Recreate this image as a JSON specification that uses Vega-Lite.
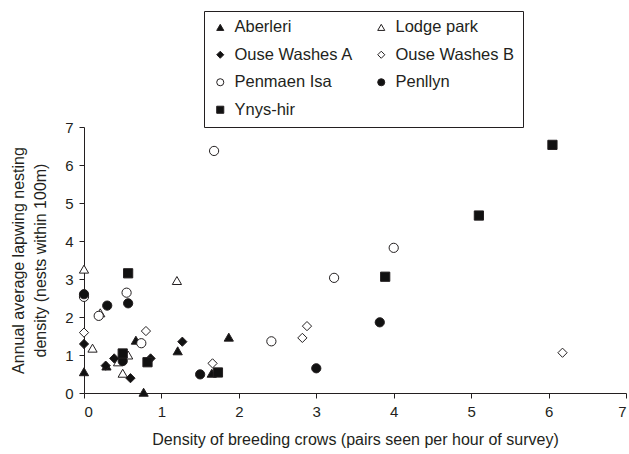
{
  "$schema": "https://vega.github.io/schema/vega-lite/v6.json",
  "width": 542,
  "height": 266,
  "autosize": {"type": "none"},
  "padding": {"left": 84, "top": 127, "right": 3, "bottom": 61},
  "background": "white",
  "config": {
    "font": "Liberation Sans",
    "view": {"stroke": null},
    "axis": {
      "grid": false,
      "domainColor": "#231f20",
      "tickColor": "#231f20",
      "labelColor": "#231f20",
      "titleColor": "#231f20",
      "labelFont": "Liberation Sans",
      "titleFont": "Liberation Sans",
      "labelFontSize": 15,
      "titleFontSize": 16,
      "titleFontWeight": "normal",
      "tickSize": 5
    }
  },
  "data": {
    "values": [
      {"site": "Aberleri", "crows": 0, "lapwing": 0.56},
      {"site": "Aberleri", "crows": 0.29, "lapwing": 0.71},
      {"site": "Aberleri", "crows": 0.67, "lapwing": 1.39},
      {"site": "Aberleri", "crows": 0.77, "lapwing": 0.02},
      {"site": "Aberleri", "crows": 1.21, "lapwing": 1.11},
      {"site": "Aberleri", "crows": 1.65, "lapwing": 0.52},
      {"site": "Aberleri", "crows": 1.87, "lapwing": 1.47},
      {"site": "Lodge park", "crows": 0, "lapwing": 3.26},
      {"site": "Lodge park", "crows": 0.11, "lapwing": 1.18},
      {"site": "Lodge park", "crows": 0.21, "lapwing": 2.11},
      {"site": "Lodge park", "crows": 0.44, "lapwing": 0.82},
      {"site": "Lodge park", "crows": 0.5, "lapwing": 0.52},
      {"site": "Lodge park", "crows": 0.57, "lapwing": 1.0},
      {"site": "Lodge park", "crows": 1.2, "lapwing": 2.96},
      {"site": "Ouse Washes A", "crows": 0, "lapwing": 1.29},
      {"site": "Ouse Washes A", "crows": 0.28, "lapwing": 0.72},
      {"site": "Ouse Washes A", "crows": 0.39, "lapwing": 0.91},
      {"site": "Ouse Washes A", "crows": 0.6, "lapwing": 0.39},
      {"site": "Ouse Washes A", "crows": 0.86, "lapwing": 0.91},
      {"site": "Ouse Washes A", "crows": 1.27, "lapwing": 1.35},
      {"site": "Ouse Washes B", "crows": 0, "lapwing": 1.59},
      {"site": "Ouse Washes B", "crows": 0.8, "lapwing": 1.63},
      {"site": "Ouse Washes B", "crows": 1.66, "lapwing": 0.78},
      {"site": "Ouse Washes B", "crows": 2.82, "lapwing": 1.45},
      {"site": "Ouse Washes B", "crows": 2.88, "lapwing": 1.76},
      {"site": "Ouse Washes B", "crows": 6.18, "lapwing": 1.06},
      {"site": "Penmaen Isa", "crows": 0, "lapwing": 2.53},
      {"site": "Penmaen Isa", "crows": 0.19, "lapwing": 2.03},
      {"site": "Penmaen Isa", "crows": 0.55, "lapwing": 2.64},
      {"site": "Penmaen Isa", "crows": 0.74, "lapwing": 1.31},
      {"site": "Penmaen Isa", "crows": 1.68, "lapwing": 6.37},
      {"site": "Penmaen Isa", "crows": 2.42, "lapwing": 1.36},
      {"site": "Penmaen Isa", "crows": 3.23, "lapwing": 3.03},
      {"site": "Penmaen Isa", "crows": 4.0, "lapwing": 3.82},
      {"site": "Penllyn", "crows": 0, "lapwing": 2.6},
      {"site": "Penllyn", "crows": 0.3, "lapwing": 2.3},
      {"site": "Penllyn", "crows": 0.57, "lapwing": 2.36},
      {"site": "Penllyn", "crows": 0.5, "lapwing": 0.84},
      {"site": "Penllyn", "crows": 1.5, "lapwing": 0.49},
      {"site": "Penllyn", "crows": 3.0, "lapwing": 0.65},
      {"site": "Penllyn", "crows": 3.82, "lapwing": 1.86},
      {"site": "Ynys-hir", "crows": 0.5, "lapwing": 1.04},
      {"site": "Ynys-hir", "crows": 0.57, "lapwing": 3.15},
      {"site": "Ynys-hir", "crows": 0.82, "lapwing": 0.81},
      {"site": "Ynys-hir", "crows": 1.73, "lapwing": 0.54},
      {"site": "Ynys-hir", "crows": 3.89, "lapwing": 3.06},
      {"site": "Ynys-hir", "crows": 5.1, "lapwing": 4.67},
      {"site": "Ynys-hir", "crows": 6.05, "lapwing": 6.53}
    ]
  },
  "mark": {"type": "point", "filled": true, "strokeWidth": 1, "opacity": 1, "size": 85},
  "encoding": {
    "x": {
      "field": "crows",
      "type": "quantitative",
      "scale": {"domain": [0, 7], "nice": false, "zero": true},
      "axis": {
        "title": "Density of breeding crows (pairs seen per hour of survey)",
        "values": [0, 1, 2, 3, 4, 5, 6, 7],
        "labelPadding": 6,
        "titlePadding": 12
      }
    },
    "y": {
      "field": "lapwing",
      "type": "quantitative",
      "scale": {"domain": [0, 7], "nice": false},
      "axis": {
        "title": ["Annual average lapwing nesting", "density (nests within 100m)"],
        "values": [0, 1, 2, 3, 4, 5, 6, 7],
        "labelPadding": 6,
        "titlePadding": 16,
        "titleLineHeight": 22
      }
    },
    "shape": {
      "field": "site",
      "type": "nominal",
      "scale": {
        "domain": ["Aberleri", "Ouse Washes A", "Penmaen Isa", "Ynys-hir", "Lodge park", "Ouse Washes B", "Penllyn"],
        "range": ["triangle-up", "diamond", "circle", "square", "triangle-up", "diamond", "circle"]
      },
      "legend": {
        "title": null,
        "orient": "none",
        "legendX": 120,
        "legendY": -116,
        "columns": 2,
        "columnPadding": 19,
        "rowPadding": 10.5,
        "padding": 8,
        "strokeColor": "#231f20",
        "fillColor": "white",
        "labelFont": "Liberation Sans",
        "labelFontSize": 16.5,
        "labelColor": "#231f20",
        "labelOffset": 6,
        "symbolSize": 50,
        "symbolStrokeWidth": 1
      }
    },
    "fill": {
      "field": "site",
      "type": "nominal",
      "scale": {
        "domain": ["Aberleri", "Ouse Washes A", "Penmaen Isa", "Ynys-hir", "Lodge park", "Ouse Washes B", "Penllyn"],
        "range": ["#111111", "#111111", "#ffffff", "#111111", "#ffffff", "#ffffff", "#111111"]
      }
    },
    "stroke": {
      "field": "site",
      "type": "nominal",
      "scale": {
        "domain": ["Aberleri", "Ouse Washes A", "Penmaen Isa", "Ynys-hir", "Lodge park", "Ouse Washes B", "Penllyn"],
        "range": ["#231f20", "#231f20", "#231f20", "#231f20", "#231f20", "#231f20", "#231f20"]
      }
    }
  }
}
